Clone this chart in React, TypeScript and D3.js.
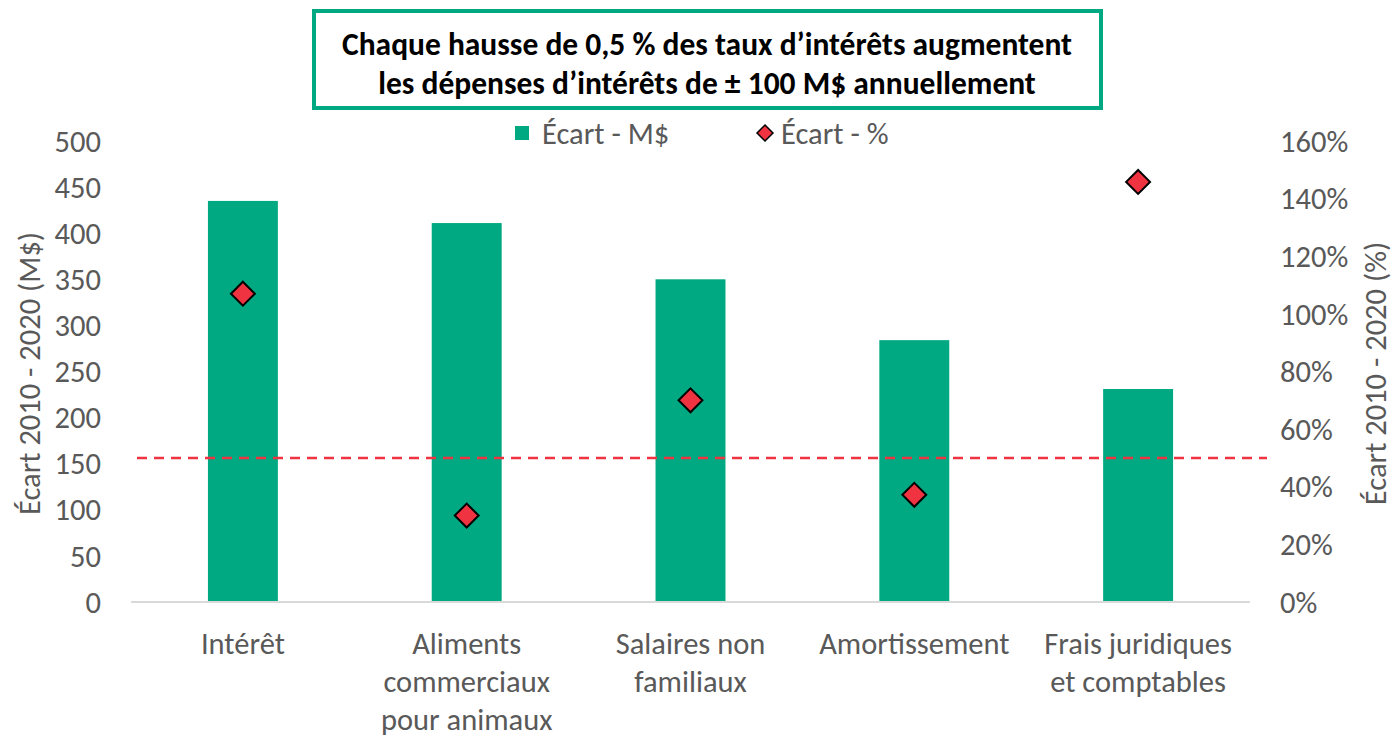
import React from 'react';
import * as d3 from 'd3';

// chart data
const categories = [
  ['Intérêt'],
  ['Aliments', 'commerciaux', 'pour animaux'],
  ['Salaires non', 'familiaux'],
  ['Amortissement'],
  ['Frais juridiques', 'et comptables'],
];
const ecartMD = [435, 411, 350, 284, 231];
const ecartPct = [1.07, 0.30, 0.70, 0.372, 1.458];
const seuilPct = 0.5;
const titleLines = [
  'Chaque hausse de 0,5 % des taux d’intérêts augmentent',
  'les dépenses d’intérêts de ± 100 M$ annuellement',
];

const W = 1396;
const H = 737;
const FONT = 'Carlito, Calibri, Lato, sans-serif';
const GREEN = '#00A982';
const RED = '#EF3340';
const GREY = '#595959';
const FS = 30.5;

const margin = { top: 141, right: 146, bottom: 135, left: 131 };

export default function App() {
  const keys = categories.map((c) => c.join(' '));
  const x = d3.scaleBand()
    .domain(keys)
    .range([margin.left, W - margin.right])
    .paddingInner(0.6875)
    .paddingOuter(0.34375);
  const yLeft = d3.scaleLinear().domain([0, 500]).range([H - margin.bottom, margin.top]);
  const yRight = d3.scaleLinear().domain([0, 1.6]).range([H - margin.bottom, margin.top]);
  const pctFmt = d3.format('.0%');

  const [x0, x1] = x.range();
  const diamond = d3.symbol().type(d3.symbolDiamond2).size(2 * 13.5 * 13.5);
  const legendDiamond = d3.symbol().type(d3.symbolDiamond2).size(2 * 9 * 9);
  const midY = (margin.top + H - margin.bottom) / 2 + 2;

  return (
    <svg width={W} height={H} style={{ position: 'absolute', left: 0, top: 0, background: '#fff' }}
      fontFamily={FONT}>
      {/* title box */}
      <rect x={314} y={11} width={787} height={97} fill="#fff" stroke={GREEN} strokeWidth={4} />
      {titleLines.map((t, i) => (
        <text key={i} x={707} y={55 + i * 39} textAnchor="middle" fontSize={31.5} fontWeight={700}
          fill="#000">{t}</text>
      ))}

      {/* legend */}
      <rect x={515} y={126} width={14} height={14} fill={GREEN} />
      <text x={542} y={144} fontSize={FS} fill={GREY}>Écart - M$</text>
      <path d={legendDiamond() as string} transform="translate(765,133)" fill={RED} stroke="#000" strokeWidth={1.5} />
      <text x={781} y={144} fontSize={FS} fill={GREY}>Écart - %</text>

      {/* left axis */}
      {yLeft.ticks(10).map((t) => (
        <text key={t} x={101} y={yLeft(t)} dy="0.35em" textAnchor="end" fontSize={FS} fill={GREY}>{t}</text>
      ))}
      <text transform={`translate(40,${midY}) rotate(-90)`}
        textAnchor="middle" fontSize={FS} fill={GREY}>Écart 2010 - 2020 (M$)</text>

      {/* right axis */}
      {yRight.ticks(8).map((t) => (
        <text key={t} x={1280} y={yRight(t)} dy="0.35em" textAnchor="start" fontSize={FS} fill={GREY}>{pctFmt(t)}</text>
      ))}
      <text transform={`translate(1375,${midY}) rotate(-90)`}
        textAnchor="middle" dy="0.35em" fontSize={FS} fill={GREY}>Écart 2010 - 2020 (%)</text>

      {/* bars */}
      {ecartMD.map((v, i) => (
        <rect key={i} x={x(keys[i])} y={yLeft(v)} width={x.bandwidth()} height={yLeft(0) - yLeft(v)} fill={GREEN} />
      ))}

      {/* baseline */}
      <line x1={x0} x2={x1} y1={yLeft(0)} y2={yLeft(0)} stroke="#D9D9D9" strokeWidth={2} />

      {/* 50% threshold */}
      <line x1={x0 + 6} x2={x1 + 17} y1={yRight(seuilPct)} y2={yRight(seuilPct)}
        stroke={RED} strokeWidth={2.5} strokeDasharray="10 7" />

      {/* % markers */}
      {ecartPct.map((v, i) => (
        <path key={i} d={diamond() as string}
          transform={`translate(${(x(keys[i]) as number) + x.bandwidth() / 2},${yRight(v)})`}
          fill={RED} stroke="#000" strokeWidth={2} />
      ))}

      {/* category labels */}
      {categories.map((lines, i) => (
        <text key={i} x={(x(keys[i]) as number) + x.bandwidth() / 2} y={654} textAnchor="middle"
          fontSize={FS} fill={GREY}>
          {lines.map((l, j) => (
            <tspan key={j} x={(x(keys[i]) as number) + x.bandwidth() / 2} dy={j === 0 ? 0 : 38}>{l}</tspan>
          ))}
        </text>
      ))}
    </svg>
  );
}
